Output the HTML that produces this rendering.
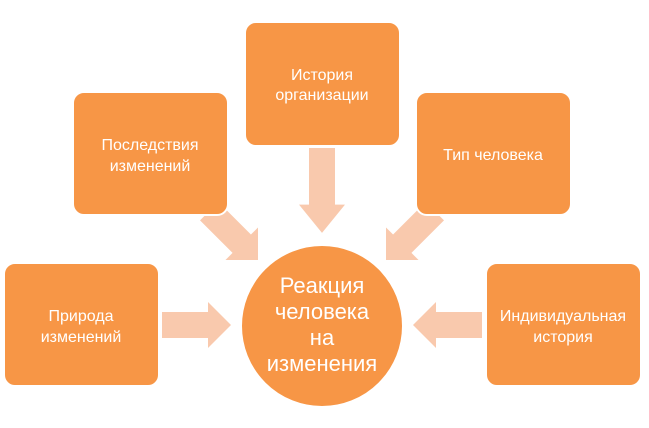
<!DOCTYPE html>
<html><head><meta charset="utf-8"><style>
html,body{margin:0;padding:0;background:#fff;width:649px;height:428px;overflow:hidden}
svg text{font-family:"Liberation Sans","DejaVu Sans",sans-serif;fill:#fff}
</style></head><body>
<svg width="649" height="428" viewBox="0 0 649 428" xmlns="http://www.w3.org/2000/svg">
<defs>
<polygon id="ar" points="0,-13 46,-13 46,-23 69,0 46,23 46,13 0,13" fill="#f9c9ad"/>
</defs>
<use href="#ar" transform="translate(162,325)"/>
<use href="#ar" transform="translate(482,325) rotate(180)"/>
<use href="#ar" transform="translate(322,233) rotate(90) translate(-85,0) scale(1.23,1)"/>
<use href="#ar" transform="translate(258,260) rotate(45) translate(-69,0)"/>
<use href="#ar" transform="translate(386,260) rotate(135) translate(-69,0)"/>
<g fill="#f79646" stroke="#fff" stroke-width="2">
<rect x="245" y="22" width="155" height="124" rx="11"/>
<rect x="73" y="92" width="155" height="123" rx="11"/>
<rect x="416" y="92" width="155" height="123" rx="11"/>
<rect x="4" y="263" width="155" height="123" rx="11"/>
<rect x="486" y="263" width="155" height="123" rx="11"/>
<circle cx="322" cy="326" r="81"/>
</g>
<g font-size="16" text-anchor="middle">
<text x="322" y="80">История</text>
<text x="322" y="100">организации</text>
<text x="150" y="150">Последствия</text>
<text x="150" y="171">изменений</text>
<text x="493" y="160">Тип человека</text>
<text x="81" y="321">Природа</text>
<text x="81" y="342">изменений</text>
<text x="563" y="321">Индивидуальная</text>
<text x="563" y="342">история</text>
</g>
<g font-size="22" text-anchor="middle">
<text x="322" y="293">Реакция</text>
<text x="322" y="319">человека</text>
<text x="322" y="345">на</text>
<text x="322" y="371">изменения</text>
</g>
</svg>
</body></html>
